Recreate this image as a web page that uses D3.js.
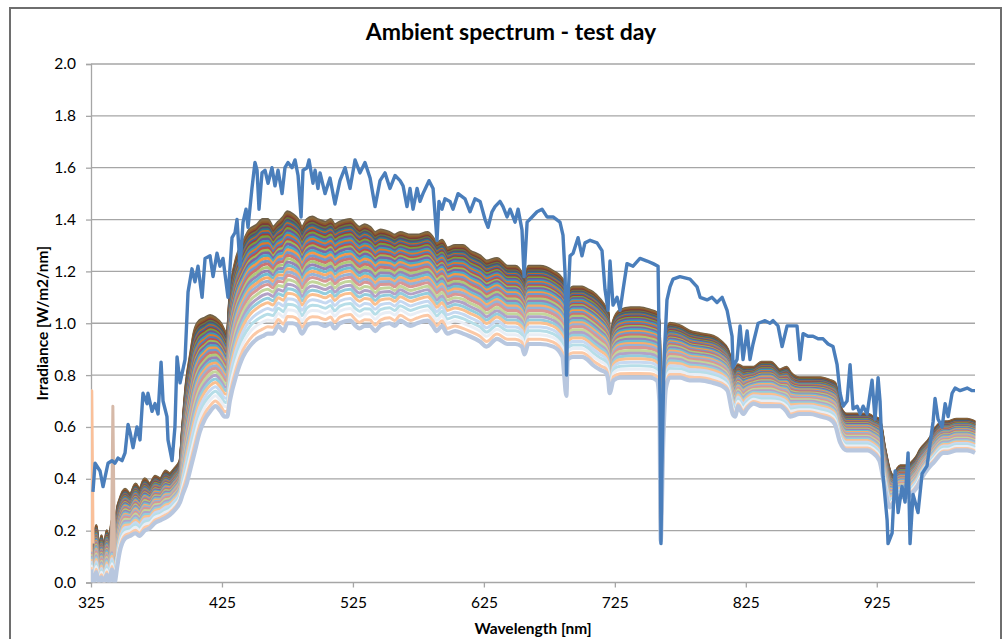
<!DOCTYPE html>
<html>
<head>
<meta charset="utf-8">
<script src="https://cdn.jsdelivr.net/npm/d3@7"></script>
<style>
  html, body { margin: 0; padding: 0; background: #fff; }
  svg { display: block; }
  text { font-family: Lato, "Open Sans", sans-serif; fill: #000; }
</style>
</head>
<body>
<svg id="chart" width="1007" height="639"></svg>
<script>
// ---------------- DATA ----------------
const chartTitle = "Ambient spectrum - test day";
const xLabel = "Wavelength [nm]";
const yLabel = "Irradiance [W/m2/nm]";
const xTicks = [325, 425, 525, 625, 725, 825, 925];
const yTicks = [0, 0.2, 0.4, 0.6, 0.8, 1.0, 1.2, 1.4, 1.6, 1.8, 2.0];

// Reference spectrum (thick blue line): wavelength [nm], irradiance
const refWl = [326.5,328.1,331.9,334.2,338.0,341.0,343.3,345.6,348.7,351.0,353.3,354.8,357.1,360.1,362.4,364.7,367.8,368.5,371.6,373.9,376.2,378.5,380.0,383.0,383.8,386.9,389.1,390.7,393.0,396.8,399.1,402.1,404.4,406.7,409.8,412.1,415.9,418.2,421.2,423.5,425.8,429.6,432.7,435.0,436.5,438.8,441.1,443.4,444.9,447.9,450.2,451.8,453.3,455.6,457.9,460.2,463.2,465.5,467.8,470.9,473.1,475.4,478.5,480.8,483.1,485.4,486.9,490.0,491.5,494.5,496.1,498.3,499.9,503.7,507.5,511.3,515.1,519.0,522.8,526.6,530.4,534.2,538.1,541.9,545.7,549.5,553.3,557.2,561.0,563.3,566.3,568.6,570.9,574.0,576.2,578.5,583.1,586.2,589.2,590.7,593.0,595.3,599.1,601.4,605.3,610.6,614.4,618.2,622.1,625.9,628.2,631.2,633.5,637.3,639.6,642.7,645.0,648.8,651.1,654.1,655.7,658.0,661.8,665.6,669.4,673.2,677.8,683.1,685.4,687.0,688.1,689.3,690.8,693.1,696.9,699.9,702.2,706.1,711.4,715.2,717.5,719.8,721.3,723.6,726.7,729.0,731.3,734.3,738.9,744.2,749.6,754.2,758.0,759.5,760.2,761.0,762.5,764.8,767.1,769.4,774.7,782.4,787.8,790.1,795.4,799.2,803.0,806.9,810.7,814.5,815.3,818.3,820.6,822.9,826.0,828.2,830.5,834.4,839.7,843.5,845.8,849.6,852.7,856.5,860.3,864.1,866.4,868.7,872.5,876.3,880.2,884.0,887.8,891.6,894.7,897.0,899.3,902.3,904.6,906.9,910.0,912.3,914.6,917.6,921.4,923.7,926.0,927.5,929.8,932.9,933.6,936.7,939.0,941.3,944.3,946.6,948.9,950.4,952.7,956.5,959.6,963.4,968.0,969.5,971.8,974.9,977.2,979.5,982.5,984.8,988.6,994.0,997.8,1000.0];
const refVal = [0.35,0.46,0.43,0.37,0.46,0.47,0.46,0.48,0.47,0.50,0.61,0.58,0.52,0.60,0.55,0.73,0.69,0.73,0.66,0.69,0.65,0.85,0.70,0.64,0.55,0.47,0.60,0.87,0.77,0.86,1.12,1.21,1.16,1.22,1.10,1.25,1.26,1.18,1.27,1.22,1.25,1.10,1.33,1.35,1.40,1.22,1.39,1.44,1.37,1.52,1.62,1.59,1.44,1.58,1.59,1.54,1.60,1.53,1.59,1.50,1.60,1.62,1.60,1.63,1.57,1.41,1.59,1.60,1.63,1.54,1.59,1.52,1.58,1.50,1.56,1.46,1.55,1.60,1.52,1.63,1.58,1.62,1.56,1.45,1.55,1.58,1.52,1.57,1.55,1.53,1.45,1.52,1.44,1.52,1.47,1.50,1.55,1.52,1.32,1.47,1.44,1.48,1.47,1.44,1.50,1.48,1.43,1.48,1.47,1.40,1.37,1.43,1.45,1.47,1.45,1.41,1.44,1.39,1.44,1.36,1.18,1.39,1.41,1.43,1.44,1.41,1.41,1.39,1.34,1.19,0.80,1.10,1.26,1.27,1.33,1.26,1.31,1.32,1.31,1.28,1.13,1.05,1.24,1.07,1.10,1.05,1.13,1.23,1.22,1.25,1.24,1.23,1.22,0.70,0.15,0.45,0.85,1.09,1.14,1.17,1.18,1.17,1.14,1.10,1.09,1.10,1.08,1.10,1.05,0.95,0.83,0.86,0.99,0.86,0.97,0.86,0.92,1.00,1.01,1.00,1.01,0.99,0.91,0.99,0.99,0.99,0.86,0.96,0.95,0.95,0.94,0.94,0.92,0.91,0.84,0.73,0.68,0.70,0.84,0.67,0.68,0.65,0.68,0.65,0.78,0.63,0.79,0.70,0.41,0.24,0.15,0.19,0.43,0.27,0.37,0.31,0.50,0.15,0.34,0.27,0.42,0.45,0.62,0.71,0.63,0.60,0.69,0.64,0.73,0.75,0.74,0.75,0.74,0.74];

// Time series band: upper and lower envelope
const bandWl = [325,327,329,331,333,335,337,339,341,343,345,347,351,355,359,362,366,370,374,378,382,385,389,393,395,398,401,404,408,412,416,420,424,427,429,431,436,441,446,452,456,460,464,468,472,475,479,483,486,490,494,498,504,508,511,515,523,527,530,534,538,542,546,553,557,561,569,574,582,586,589,593,597,603,609,614,622,627,635,643,649,654,656,659,668,678,685,686,688,689,693,700,704,708,714,718,720,721,724,729,737,744,752,757,759,760,762,764,767,775,782,790,800,806,811,815,817,819,823,826,831,837,844,851,856,859,866,874,882,889,893,897,902,910,918,922,927,931,935,938,941,943,948,953,956,958,966,968,976,979,986,994,1000];
const bandTop = [0.20,0.08,0.22,0.06,0.18,0.04,0.20,0.10,0.24,0.15,0.28,0.32,0.36,0.34,0.38,0.36,0.40,0.38,0.41,0.40,0.43,0.42,0.44,0.47,0.60,0.78,0.88,0.97,1.01,1.02,1.03,1.02,1.00,0.97,0.96,1.10,1.25,1.31,1.36,1.38,1.40,1.40,1.37,1.39,1.41,1.43,1.42,1.40,1.37,1.40,1.41,1.40,1.39,1.40,1.38,1.39,1.40,1.38,1.37,1.38,1.37,1.35,1.36,1.35,1.34,1.35,1.34,1.34,1.35,1.33,1.31,1.32,1.29,1.30,1.30,1.28,1.26,1.24,1.25,1.22,1.22,1.19,1.16,1.22,1.22,1.20,1.17,1.10,0.81,1.10,1.14,1.14,1.13,1.12,1.09,1.06,1.04,0.83,1.01,1.05,1.06,1.06,1.05,1.04,1.00,0.24,0.70,0.95,1.00,0.99,0.97,0.96,0.95,0.93,0.90,0.84,0.82,0.84,0.83,0.83,0.83,0.85,0.85,0.82,0.83,0.81,0.79,0.79,0.79,0.78,0.77,0.68,0.65,0.65,0.65,0.64,0.63,0.52,0.43,0.41,0.44,0.45,0.45,0.47,0.49,0.51,0.56,0.58,0.62,0.62,0.63,0.63,0.62];
const bandBottom = [0.05,0.00,0.04,0.00,0.02,0.00,0.03,0.00,0.05,0.00,0.06,0.12,0.17,0.18,0.19,0.18,0.20,0.21,0.23,0.24,0.25,0.26,0.28,0.31,0.34,0.38,0.44,0.50,0.58,0.63,0.66,0.68,0.66,0.64,0.64,0.70,0.80,0.87,0.91,0.94,0.95,0.96,0.96,0.99,0.97,1.00,1.00,0.99,0.96,0.99,1.00,1.00,0.99,1.00,0.98,1.00,1.01,0.99,0.98,0.99,0.99,0.97,0.99,1.00,0.99,1.01,0.99,1.00,1.01,0.99,0.97,0.99,0.96,0.97,0.96,0.95,0.93,0.91,0.94,0.92,0.92,0.91,0.88,0.92,0.92,0.91,0.87,0.82,0.72,0.86,0.87,0.87,0.86,0.84,0.82,0.81,0.78,0.73,0.78,0.79,0.79,0.79,0.79,0.78,0.70,0.16,0.55,0.75,0.79,0.79,0.78,0.78,0.77,0.76,0.74,0.65,0.64,0.68,0.65,0.67,0.69,0.68,0.68,0.68,0.66,0.64,0.65,0.65,0.64,0.63,0.61,0.54,0.51,0.51,0.51,0.50,0.47,0.37,0.29,0.31,0.33,0.33,0.33,0.35,0.37,0.39,0.45,0.46,0.50,0.50,0.51,0.51,0.50];

// Relative level of each time-series curve inside the band (1 = top, 0 = bottom), top first
const seriesLevel = [1.0,0.985,0.97,0.955,0.94,0.925,0.91,0.895,0.88,0.865,0.85,0.83,0.81,0.79,0.77,0.75,0.73,0.71,0.685,0.66,0.635,0.61,0.58,0.55,0.52,0.49,0.46,0.43,0.39,0.35,0.31,0.27,0.22,0.17,0.12,0.06,0.0];
const seriesColor = ["#6f6048","#8a6a3e","#8c5a2b","#7b3b3a","#6b7a3a","#5a4a72","#2f7a8a","#c0662a","#3e6aa0","#a43c3a","#7aa03c","#6f5594","#3a9bb5","#e0782a","#4f81bd","#c0504d","#9bbb59","#8064a2","#4bacc6","#f79646","#729aca","#cd7371","#afc97a","#9983b5","#6fbdd1","#f9ab6b","#95b3d7","#d99694","#c3d69b","#b3a2c7","#93cddd","#fac090","#c6d9f1","#b7dee8","#e9eef5","#fcc9a6","#b8c7df"];

// Early-morning UV spikes of individual curves
const spikeA = [[325,0.12],[325.6,0.74],[326.6,0.15]];
const spikeB = [[340.6,0.12],[341.7,0.68],[342.9,0.10]];
const spikeColors = ["#f9c09a", "#d6b9a8"];

// ---------------- CHART ----------------
const svg = d3.select("#chart");
const plot = { left: 91, right: 975, top: 64, bottom: 582.5 };

// outer frame
svg.append("rect").attr("x", 10).attr("y", 8).attr("width", 991).attr("height", 640)
  .attr("fill", "#fff").attr("stroke", "#6e6e6e").attr("stroke-width", 2);

const x = d3.scaleLinear().domain([325, 1000]).range([plot.left, plot.right]);
const y = d3.scaleLinear().domain([0, 2]).range([plot.bottom, plot.top]);

// gridlines
svg.append("g").selectAll("line").data(yTicks.slice(1)).join("line")
  .attr("x1", plot.left).attr("x2", plot.right)
  .attr("y1", d => y(d)).attr("y2", d => y(d))
  .attr("stroke", "#a6a6a6").attr("stroke-width", 1.3);

// y axis
const yAxis = svg.append("g").attr("transform", `translate(${plot.left},0)`)
  .call(d3.axisLeft(y).tickValues(yTicks).tickFormat(d3.format(".1f")).tickSize(5).tickPadding(10));
yAxis.select(".domain").attr("stroke", "#a6a6a6").attr("stroke-width", 1.3);
yAxis.selectAll(".tick line").attr("stroke", "#a6a6a6").attr("stroke-width", 1.3);
yAxis.selectAll("text").attr("font-size", 15.5).attr("font-family", "Lato, sans-serif").attr("fill", "#000");

// x axis
const xAxis = svg.append("g").attr("transform", `translate(0,${plot.bottom})`)
  .call(d3.axisBottom(x).tickValues(xTicks).tickFormat(d3.format("d")).tickSize(5).tickPadding(9));
xAxis.select(".domain").attr("stroke", "#a6a6a6").attr("stroke-width", 1.3).attr("d", `M${plot.left},0H${plot.right}`);
xAxis.selectAll(".tick line").attr("stroke", "#a6a6a6").attr("stroke-width", 1.3);
xAxis.selectAll("text").attr("font-size", 15.5).attr("font-family", "Lato, sans-serif").attr("fill", "#000");

// clip
svg.append("clipPath").attr("id", "clip").append("rect")
  .attr("x", plot.left).attr("y", plot.top - 5).attr("width", plot.right - plot.left + 3).attr("height", plot.bottom - plot.top + 5);

const lineGen = d3.line().x(d => x(d[0])).y(d => y(d[1])).curve(d3.curveMonotoneX);
const lines = svg.append("g").attr("clip-path", "url(#clip)");

// band series
seriesLevel.forEach((t, i) => {
  const pts = bandWl.map((w, k) => [w, bandBottom[k] + t * (bandTop[k] - bandBottom[k])]);
  lines.append("path").datum(pts)
    .attr("d", lineGen).attr("fill", "none")
    .attr("stroke", seriesColor[i])
    .attr("stroke-width", i === seriesLevel.length - 1 ? 4.2 : 3)
    .attr("stroke-linejoin", "round");
});

// spikes
[spikeA, spikeB].forEach((s, i) => {
  lines.append("path").datum(s).attr("d", d3.line().x(d => x(d[0])).y(d => y(d[1])))
    .attr("fill", "none").attr("stroke", spikeColors[i]).attr("stroke-width", 3).attr("stroke-linejoin", "round");
});

// reference blue line
const refPts = refWl.map((w, k) => [w, refVal[k]]);
lines.append("path").datum(refPts)
  .attr("d", d3.line().x(d => x(d[0])).y(d => y(d[1])))
  .attr("fill", "none").attr("stroke", "#4a7ebb").attr("stroke-width", 3.4)
  .attr("stroke-linejoin", "round");

// titles
svg.append("text").attr("x", 511).attr("y", 40).attr("text-anchor", "middle")
  .attr("font-size", 23).attr("font-weight", "bold").text(chartTitle);
svg.append("text").attr("x", (plot.left + plot.right) / 2).attr("y", 634).attr("text-anchor", "middle")
  .attr("font-size", 15.5).attr("font-weight", "bold").text(xLabel);
svg.append("text").attr("transform", `translate(48,${(plot.top + plot.bottom) / 2}) rotate(-90)`)
  .attr("text-anchor", "middle").attr("font-size", 15.5).attr("font-weight", "bold").text(yLabel);
</script>
</body>
</html>
